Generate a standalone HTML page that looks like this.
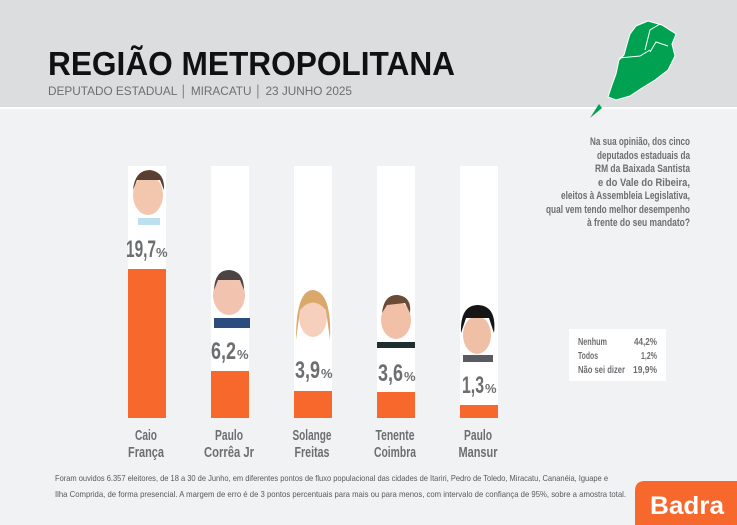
<!DOCTYPE html>
<html><head><meta charset="utf-8"><style>
html,body{margin:0;padding:0;width:737px;height:525px;overflow:hidden;background:#f1f2f4}
svg{display:block}
text{font-family:"Liberation Sans",sans-serif}
</style></head><body>
<svg width="737" height="525" viewBox="0 0 737 525" xmlns="http://www.w3.org/2000/svg">
<rect x="0" y="0" width="737" height="107" fill="#dcdddf"/>
<rect x="0" y="107" width="737" height="2" fill="#ffffff"/>
<rect x="0" y="109" width="737" height="416" fill="#f1f2f4"/>
<text x="48" y="75" font-size="33" font-weight="bold" fill="#111" textLength="407" lengthAdjust="spacingAndGlyphs">REGIÃO METROPOLITANA</text>
<text x="48" y="95" font-size="11.5" fill="#6d6e70" textLength="304" lengthAdjust="spacingAndGlyphs">DEPUTADO ESTADUAL │ MIRACATU │ 23 JUNHO 2025</text>
<!-- map -->
<path d="M636 26 L648 21 L662 25 L676 34 L672 44 L675 56 L668 70 L655 80 L642 88 L630 96 L616 100 L608 97 L612 85 L616 74 L619 60 L624 55 L627 44 L630 34 Z" fill="#00a251" stroke="#fff" stroke-width="1"/>
<path d="M619 58 L640 56 L650 50 M645 50 L650 30 L660 24 M650 52 L656 42 L668 46" stroke="#fff" stroke-width="1" fill="none"/>
<path d="M599 104 L602 108 L590 118 Z" fill="#00a251"/>
<!-- question -->
<g font-size="11" fill="#6d6e70" text-anchor="end" font-weight="bold">
<text x="690" y="145" textLength="100" lengthAdjust="spacingAndGlyphs">Na sua opinião, dos cinco</text>
<text x="690" y="159" textLength="93" lengthAdjust="spacingAndGlyphs">deputados estaduais da</text>
<text x="690" y="172" textLength="95" lengthAdjust="spacingAndGlyphs">RM da Baixada Santista</text>
<text x="690" y="186" textLength="92" lengthAdjust="spacingAndGlyphs">e do Vale do Ribeira,</text>
<text x="690" y="199" textLength="129" lengthAdjust="spacingAndGlyphs">eleitos à Assembleia Legislativa,</text>
<text x="690" y="213" textLength="144" lengthAdjust="spacingAndGlyphs">qual vem tendo melhor desempenho</text>
<text x="690" y="226" textLength="103" lengthAdjust="spacingAndGlyphs">à frente do seu mandato?</text>
</g>
<rect x="569" y="329" width="97" height="52" fill="#fff"/>
<g font-size="10" fill="#6d6e70" font-weight="bold">
<text x="578" y="345" textLength="29" lengthAdjust="spacingAndGlyphs">Nenhum</text><text x="657" y="345" text-anchor="end" textLength="23" lengthAdjust="spacingAndGlyphs">44,2%</text>
<text x="578" y="359" textLength="20" lengthAdjust="spacingAndGlyphs">Todos</text><text x="657" y="359" text-anchor="end" textLength="16" lengthAdjust="spacingAndGlyphs">1,2%</text>
<text x="578" y="373" textLength="47" lengthAdjust="spacingAndGlyphs">Não sei dizer</text><text x="657" y="373" text-anchor="end" textLength="24" lengthAdjust="spacingAndGlyphs">19,9%</text>
</g>
<!-- bars -->
<g fill="#fff">
<rect x="128" y="166" width="38" height="252"/>
<rect x="211" y="166" width="38" height="252"/>
<rect x="294" y="166" width="38" height="252"/>
<rect x="377" y="166" width="38" height="252"/>
<rect x="460" y="166" width="38" height="252"/>
</g>
<g fill="#f7682d">
<rect x="128" y="269" width="38" height="149"/>
<rect x="211" y="371" width="38" height="47"/>
<rect x="294" y="391" width="38" height="27"/>
<rect x="377" y="392" width="38" height="26"/>
<rect x="460" y="405" width="38" height="13"/>
</g>
<!-- faces -->
<g>
<ellipse cx="148" cy="195" rx="15" ry="20" fill="#f3c6ae"/><path d="M133 190 Q135 170 150 170 Q165 172 164 190 L160 180 L137 180Z" fill="#5a3f33"/><rect x="138" y="218" width="22" height="7" fill="#bde0f0"/>
<ellipse cx="229" cy="295" rx="16" ry="20" fill="#f2c3ae"/><path d="M214 290 Q215 270 229 270 Q244 271 244 290 L240 280 L218 280Z" fill="#4c4444"/><rect x="214" y="318" width="36" height="10" fill="#2b4c7e"/>
<ellipse cx="313" cy="317" rx="14" ry="20" fill="#f6d0bd"/><path d="M296 340 Q296 290 313 290 Q332 292 330 340 L326 310 Q313 295 300 310Z" fill="#d9a86a"/>
<ellipse cx="396" cy="320" rx="15" ry="19" fill="#f1c0a6"/><path d="M382 313 Q384 294 398 295 Q412 297 410 313 L405 303 L387 305Z" fill="#6b4a36"/><rect x="377" y="342" width="38" height="6" fill="#1f2f2f"/>
<ellipse cx="477" cy="335" rx="14" ry="19" fill="#f0c0a6"/><path d="M461 333 Q460 305 478 305 Q497 306 494 333 L489 318 L466 318Z" fill="#151515"/><rect x="463" y="355" width="30" height="7" fill="#5a5a60"/>
</g>
<!-- values -->
<g fill="#6d6e70" font-weight="bold">
<text x="126" y="257" font-size="24" textLength="30" lengthAdjust="spacingAndGlyphs">19,7</text><text x="156" y="257" font-size="13">%</text>
<text x="211" y="359" font-size="24" textLength="25" lengthAdjust="spacingAndGlyphs">6,2</text><text x="237" y="359" font-size="13">%</text>
<text x="295" y="378" font-size="24" textLength="25" lengthAdjust="spacingAndGlyphs">3,9</text><text x="321" y="378" font-size="13">%</text>
<text x="378" y="381" font-size="24" textLength="25" lengthAdjust="spacingAndGlyphs">3,6</text><text x="404" y="381" font-size="13">%</text>
<text x="462" y="393" font-size="24" textLength="22" lengthAdjust="spacingAndGlyphs">1,3</text><text x="485" y="393" font-size="13">%</text>
</g>
<!-- names -->
<g font-size="14.5" fill="#6d6e70" text-anchor="middle" font-weight="bold">
<text x="146" y="440" textLength="22" lengthAdjust="spacingAndGlyphs">Caio</text><text x="146" y="457" textLength="36" lengthAdjust="spacingAndGlyphs">França</text>
<text x="229" y="440" textLength="28" lengthAdjust="spacingAndGlyphs">Paulo</text><text x="229" y="457" textLength="50" lengthAdjust="spacingAndGlyphs">Corrêa Jr</text>
<text x="312" y="440" textLength="39" lengthAdjust="spacingAndGlyphs">Solange</text><text x="312" y="457" textLength="35" lengthAdjust="spacingAndGlyphs">Freitas</text>
<text x="395" y="440" textLength="39" lengthAdjust="spacingAndGlyphs">Tenente</text><text x="395" y="457" textLength="42" lengthAdjust="spacingAndGlyphs">Coimbra</text>
<text x="478" y="440" textLength="28" lengthAdjust="spacingAndGlyphs">Paulo</text><text x="478" y="457" textLength="39" lengthAdjust="spacingAndGlyphs">Mansur</text>
</g>
<g font-size="8.5" fill="#58595b">
<text x="55" y="481" textLength="553" lengthAdjust="spacingAndGlyphs">Foram ouvidos 6.357 eleitores, de 18 a 30 de Junho, em diferentes pontos de fluxo populacional das cidades de Itariri, Pedro de Toledo, Miracatu, Cananéia, Iguape e</text>
<text x="55" y="497" textLength="571" lengthAdjust="spacingAndGlyphs">Ilha Comprida, de forma presencial. A margem de erro é de 3 pontos percentuais para mais ou para menos, com intervalo de confiança de 95%, sobre a amostra total.</text>
</g>
<path d="M645 481 L737 481 L737 525 L635 525 L635 491 Q635 481 645 481Z" fill="#f7682d"/>
<text x="650" y="514" font-size="25" font-weight="bold" fill="#fff" textLength="74" lengthAdjust="spacingAndGlyphs">Badra</text>
</svg>
</body></html>
